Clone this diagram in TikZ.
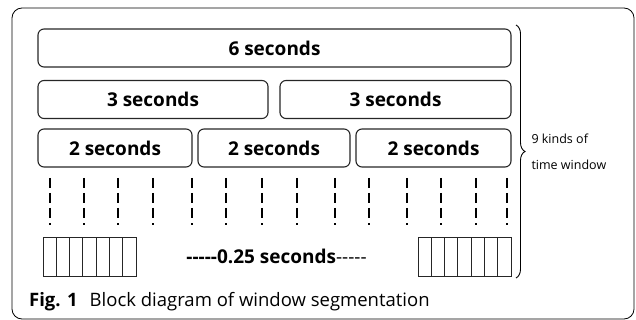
\documentclass[tikz,border=0pt]{standalone}
\usepackage{fontspec}
\setmainfont{Open Sans}[Ligatures=TeXOff]
\usetikzlibrary{decorations.pathreplacing}
\tikzset{
  winbox/.style={draw=black!85, line width=1.1pt, rounded corners=6pt, inner sep=0pt,
    minimum height=38pt, font=\fontsize{19}{22}\selectfont\bfseries},
  cell/.style={draw=black!85, line width=0.9pt, inner sep=0pt, minimum width=13.3pt, minimum height=39pt},
  tick/.style={line width=1.2pt, dash pattern=on 10pt off 5pt}
}
\begin{document}
\begin{tikzpicture}[x=1pt, y=-1pt]
        \useasboundingbox (0, 0) rectangle (636, 320);
        \draw[line width=0.8pt, rounded corners=10pt] (12, 8) rectangle (634, 319);
        % windows
        \node[winbox, minimum width=473pt] (six) at (274.5, 48) {6 seconds};
        \node[winbox, minimum width=230pt] (threeA) at (153, 99.5) {3 seconds};
        \node[winbox, minimum width=231pt] (threeB) at (395.5, 99.5) {3 seconds};
        \node[winbox, minimum width=154pt] (twoA) at (115, 148) {2 seconds};
        \node[winbox, minimum width=152pt] (twoB) at (274, 148) {2 seconds};
        \node[winbox, minimum width=155pt] (twoC) at (433.5, 148) {2 seconds};
        % dashed ticks
        \foreach \x in {50, 84, 118, 153, 192, 226, 262, 297, 335, 369, 407, 441, 476, 507}
            \draw[tick] (\x, 178) -- (\x, 225);
        % 0.25 s cells
        \foreach \i in {0, ..., 6} {
            \node[cell] (left\i) at (49.65 + \i*13.3, 256.5) {};
            \node[cell] (right\i) at (424.65 + \i*13.3, 256.5) {};
        }
        \node[font=\fontsize{19}{22}\selectfont] (quarter) at (276.5, 256) {\textbf{-----0.25 seconds}-----};
        % brace
        \draw[line width=0.9pt, decorate, decoration={brace, amplitude=9pt}] (516, 25) -- (516, 278);
        \node[anchor=west, align=left, font=\fontsize{12.5}{26}\selectfont] (kinds) at (528, 152) {9 kinds of\\time window};
        % caption
        \node[anchor=base west, inner sep=0pt, font=\fontsize{18.5}{22}\selectfont] (caption) at (29, 306)
            {\textbf{Fig. 1}\hspace{12pt}Block diagram of window segmentation};
    \end{tikzpicture}
\end{document}
